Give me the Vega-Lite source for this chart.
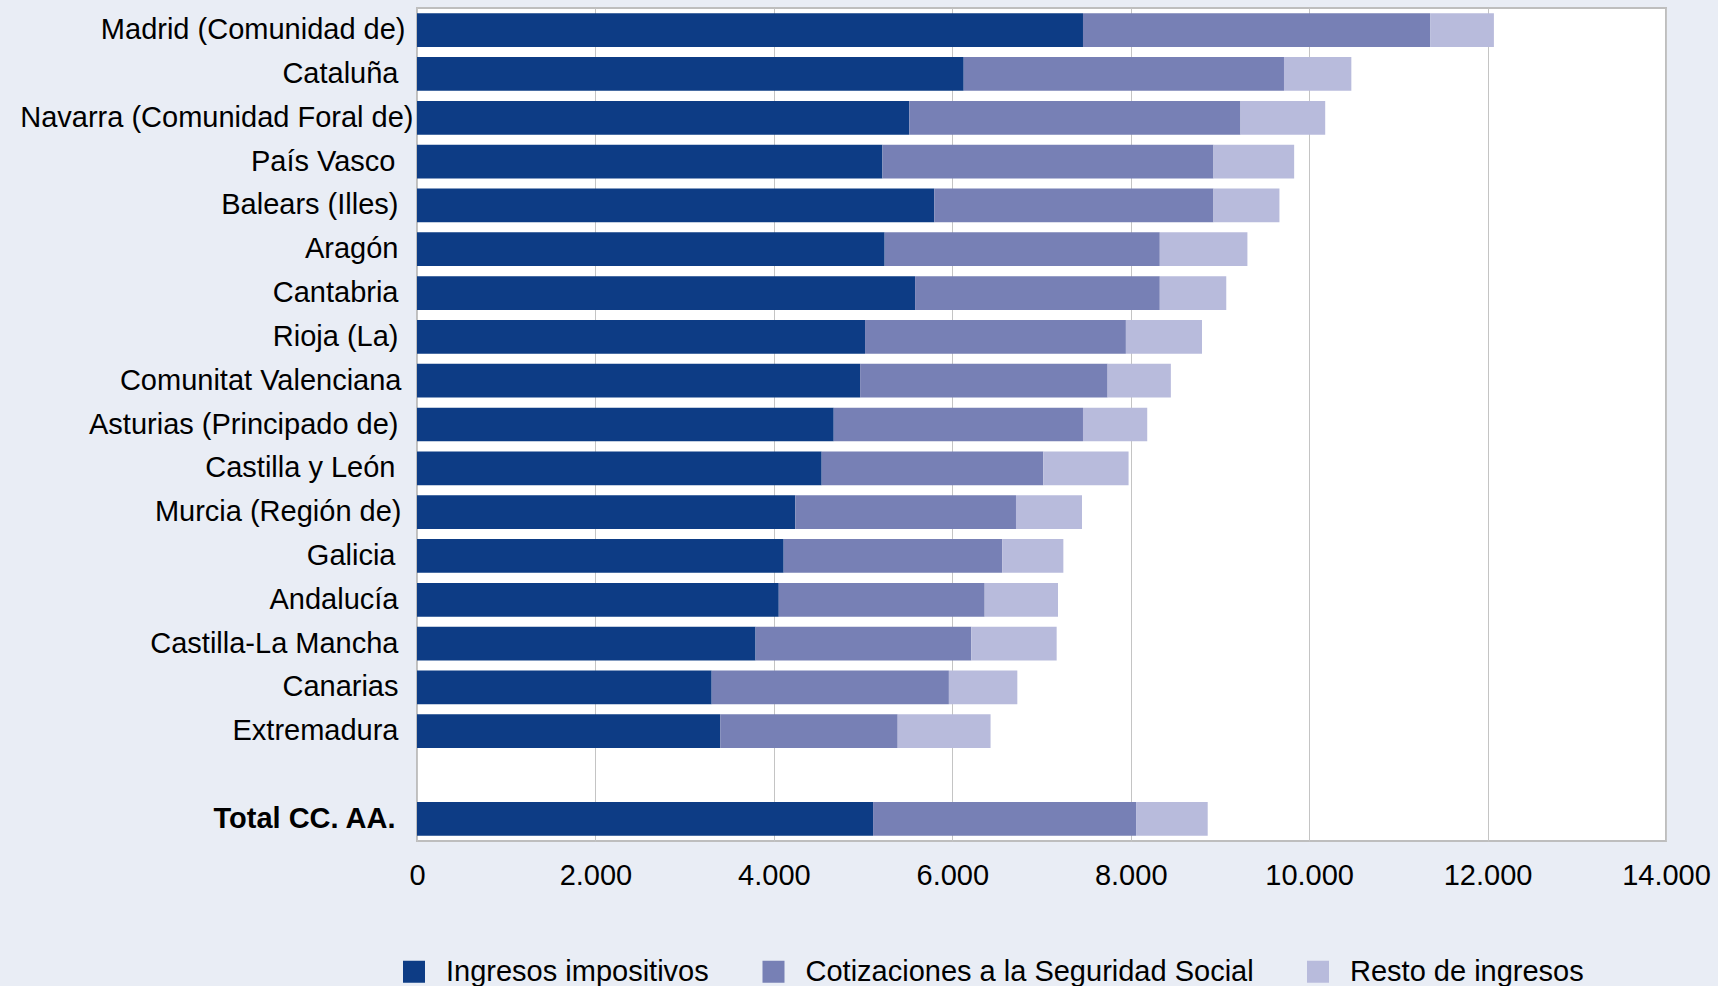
{
  "$schema": "https://vega.github.io/schema/vega-lite/v6.json",
  "width": 1249,
  "height": 833,
  "autosize": {"type": "none"},
  "padding": {"left": 417, "top": 8, "right": 52, "bottom": 145},
  "background": "#E9EDF5",
  "config": {
    "font": "Liberation Sans",
    "view": {"fill": "white", "stroke": "#BEBEBE", "strokeWidth": 2}
  },
  "data": {
    "values": [
      {"region": "Madrid (Comunidad de)", "tipo": "Ingresos impositivos", "orden": 1, "valor": 7465},
      {"region": "Madrid (Comunidad de)", "tipo": "Cotizaciones a la Seguridad Social", "orden": 2, "valor": 3891},
      {"region": "Madrid (Comunidad de)", "tipo": "Resto de ingresos", "orden": 3, "valor": 715},
      {"region": "Cataluña", "tipo": "Ingresos impositivos", "orden": 1, "valor": 6128},
      {"region": "Cataluña", "tipo": "Cotizaciones a la Seguridad Social", "orden": 2, "valor": 3590},
      {"region": "Cataluña", "tipo": "Resto de ingresos", "orden": 3, "valor": 755},
      {"region": "Navarra (Comunidad Foral de)", "tipo": "Ingresos impositivos", "orden": 1, "valor": 5518},
      {"region": "Navarra (Comunidad Foral de)", "tipo": "Cotizaciones a la Seguridad Social", "orden": 2, "valor": 3713},
      {"region": "Navarra (Comunidad Foral de)", "tipo": "Resto de ingresos", "orden": 3, "valor": 949},
      {"region": "País Vasco", "tipo": "Ingresos impositivos", "orden": 1, "valor": 5217},
      {"region": "País Vasco", "tipo": "Cotizaciones a la Seguridad Social", "orden": 2, "valor": 3711},
      {"region": "País Vasco", "tipo": "Resto de ingresos", "orden": 3, "valor": 904},
      {"region": "Balears (Illes)", "tipo": "Ingresos impositivos", "orden": 1, "valor": 5798},
      {"region": "Balears (Illes)", "tipo": "Cotizaciones a la Seguridad Social", "orden": 2, "valor": 3130},
      {"region": "Balears (Illes)", "tipo": "Resto de ingresos", "orden": 3, "valor": 739},
      {"region": "Aragón", "tipo": "Ingresos impositivos", "orden": 1, "valor": 5242},
      {"region": "Aragón", "tipo": "Cotizaciones a la Seguridad Social", "orden": 2, "valor": 3084},
      {"region": "Aragón", "tipo": "Resto de ingresos", "orden": 3, "valor": 982},
      {"region": "Cantabria", "tipo": "Ingresos impositivos", "orden": 1, "valor": 5583},
      {"region": "Cantabria", "tipo": "Cotizaciones a la Seguridad Social", "orden": 2, "valor": 2743},
      {"region": "Cantabria", "tipo": "Resto de ingresos", "orden": 3, "valor": 745},
      {"region": "Rioja (La)", "tipo": "Ingresos impositivos", "orden": 1, "valor": 5022},
      {"region": "Rioja (La)", "tipo": "Cotizaciones a la Seguridad Social", "orden": 2, "valor": 2924},
      {"region": "Rioja (La)", "tipo": "Resto de ingresos", "orden": 3, "valor": 853},
      {"region": "Comunitat Valenciana", "tipo": "Ingresos impositivos", "orden": 1, "valor": 4967},
      {"region": "Comunitat Valenciana", "tipo": "Cotizaciones a la Seguridad Social", "orden": 2, "valor": 2774},
      {"region": "Comunitat Valenciana", "tipo": "Resto de ingresos", "orden": 3, "valor": 709},
      {"region": "Asturias (Principado de)", "tipo": "Ingresos impositivos", "orden": 1, "valor": 4671},
      {"region": "Asturias (Principado de)", "tipo": "Cotizaciones a la Seguridad Social", "orden": 2, "valor": 2794},
      {"region": "Asturias (Principado de)", "tipo": "Resto de ingresos", "orden": 3, "valor": 720},
      {"region": "Castilla y León", "tipo": "Ingresos impositivos", "orden": 1, "valor": 4536},
      {"region": "Castilla y León", "tipo": "Cotizaciones a la Seguridad Social", "orden": 2, "valor": 2484},
      {"region": "Castilla y León", "tipo": "Resto de ingresos", "orden": 3, "valor": 956},
      {"region": "Murcia (Región de)", "tipo": "Ingresos impositivos", "orden": 1, "valor": 4240},
      {"region": "Murcia (Región de)", "tipo": "Cotizaciones a la Seguridad Social", "orden": 2, "valor": 2474},
      {"region": "Murcia (Región de)", "tipo": "Resto de ingresos", "orden": 3, "valor": 740},
      {"region": "Galicia", "tipo": "Ingresos impositivos", "orden": 1, "valor": 4110},
      {"region": "Galicia", "tipo": "Cotizaciones a la Seguridad Social", "orden": 2, "valor": 2449},
      {"region": "Galicia", "tipo": "Resto de ingresos", "orden": 3, "valor": 686},
      {"region": "Andalucía", "tipo": "Ingresos impositivos", "orden": 1, "valor": 4055},
      {"region": "Andalucía", "tipo": "Cotizaciones a la Seguridad Social", "orden": 2, "valor": 2308},
      {"region": "Andalucía", "tipo": "Resto de ingresos", "orden": 3, "valor": 822},
      {"region": "Castilla-La Mancha", "tipo": "Ingresos impositivos", "orden": 1, "valor": 3795},
      {"region": "Castilla-La Mancha", "tipo": "Cotizaciones a la Seguridad Social", "orden": 2, "valor": 2418},
      {"region": "Castilla-La Mancha", "tipo": "Resto de ingresos", "orden": 3, "valor": 957},
      {"region": "Canarias", "tipo": "Ingresos impositivos", "orden": 1, "valor": 3303},
      {"region": "Canarias", "tipo": "Cotizaciones a la Seguridad Social", "orden": 2, "valor": 2659},
      {"region": "Canarias", "tipo": "Resto de ingresos", "orden": 3, "valor": 767},
      {"region": "Extremadura", "tipo": "Ingresos impositivos", "orden": 1, "valor": 3399},
      {"region": "Extremadura", "tipo": "Cotizaciones a la Seguridad Social", "orden": 2, "valor": 1989},
      {"region": "Extremadura", "tipo": "Resto de ingresos", "orden": 3, "valor": 1041},
      {"region": "Total CC. AA.", "tipo": "Ingresos impositivos", "orden": 1, "valor": 5112},
      {"region": "Total CC. AA.", "tipo": "Cotizaciones a la Seguridad Social", "orden": 2, "valor": 2948},
      {"region": "Total CC. AA.", "tipo": "Resto de ingresos", "orden": 3, "valor": 803}
    ]
  },
  "mark": {"type": "bar"},
  "encoding": {
    "y": {
      "field": "region",
      "type": "nominal",
      "sort": null,
      "scale": {
        "domain": ["Madrid (Comunidad de)", "Cataluña", "Navarra (Comunidad Foral de)", "País Vasco", "Balears (Illes)", "Aragón", "Cantabria", "Rioja (La)", "Comunitat Valenciana", "Asturias (Principado de)", "Castilla y León", "Murcia (Región de)", "Galicia", "Andalucía", "Castilla-La Mancha", "Canarias", "Extremadura", " ", "Total CC. AA."],
        "paddingInner": 0.23,
        "paddingOuter": 0.12
      },
      "axis": {
        "title": null,
        "ticks": false,
        "domain": false,
        "labelFontSize": 29,
        "labelColor": "black",
        "labelLimit": 600,
        "labelPadding": {
          "condition": [
            {"test": "datum.value == 'Navarra (Comunidad Foral de)'", "value": 4},
            {"test": "datum.value == 'Madrid (Comunidad de)'", "value": 12},
            {"test": "datum.value == 'Murcia (Región de)' || datum.value == 'Comunitat Valenciana'", "value": 16},
            {"test": "datum.value == 'País Vasco' || datum.value == 'Galicia' || datum.value == 'Total CC. AA.' || datum.value == 'Castilla y León'", "value": 22}
          ],
          "value": 19
        },
        "labelFontWeight": {"condition": {"test": "datum.value == 'Total CC. AA.'", "value": "bold"}, "value": "normal"}
      }
    },
    "x": {
      "field": "valor",
      "type": "quantitative",
      "stack": "zero",
      "scale": {"domain": [0, 14000], "nice": false},
      "axis": {
        "title": null,
        "ticks": false,
        "domain": false,
        "grid": true,
        "gridColor": "#C4C4C4",
        "gridWidth": 1,
        "values": [0, 2000, 4000, 6000, 8000, 10000, 12000, 14000],
        "labelFontSize": 29,
        "labelColor": "black",
        "labelPadding": 20,
        "labelFlush": false,
        "labelOverlap": false,
        "labelExpr": "replace(format(datum.value, ','), ',', '.')"
      }
    },
    "color": {
      "field": "tipo",
      "type": "nominal",
      "scale": {
        "domain": ["Ingresos impositivos", "Cotizaciones a la Seguridad Social", "Resto de ingresos"],
        "range": ["#0D3C85", "#7780B5", "#B8BBDC"]
      },
      "legend": {
        "orient": "none",
        "legendX": -17.5,
        "legendY": 949,
        "direction": "horizontal",
        "columns": 3,
        "title": null,
        "symbolType": "square",
        "symbolSize": 484,
        "symbolStrokeWidth": 0,
        "symbolOpacity": 1,
        "labelFontSize": 29,
        "labelColor": "black",
        "labelOffset": 17.5,
        "columnPadding": 49.5,
        "labelLimit": 700
      }
    },
    "order": {"field": "orden", "type": "quantitative"}
  }
}
